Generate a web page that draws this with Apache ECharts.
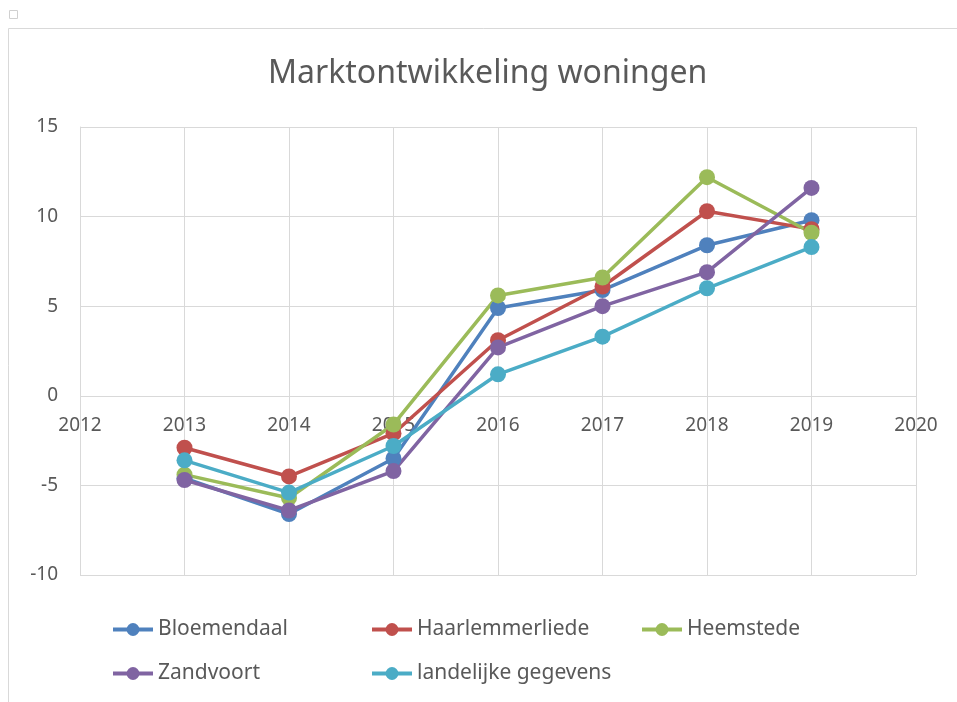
<!DOCTYPE html>
<html>
<head>
<meta charset="utf-8">
<script src="https://cdn.jsdelivr.net/npm/echarts@6/dist/echarts.min.js"></script>
<style>
  html, body { margin: 0; padding: 0; background: #fff; }
  #chart { width: 957px; height: 702px; }
</style>
</head>
<body>
<div id="chart"></div>
<script>
// jaren en reeksen
const years = [2013, 2014, 2015, 2016, 2017, 2018, 2019];
const bloemendaal = [-4.6, -6.6, -3.5, 4.9, 5.9, 8.4, 9.8];
const haarlemmerliede = [-2.9, -4.5, -2.1, 3.1, 6.1, 10.3, 9.3];
const heemstede = [-4.4, -5.7, -1.6, 5.6, 6.6, 12.2, 9.1];
const zandvoort = [-4.7, -6.4, -4.2, 2.7, 5.0, 6.9, 11.6];
const landelijk = [-3.6, -5.4, -2.8, 1.2, 3.3, 6.0, 8.3];

const names = ['Bloemendaal', 'Haarlemmerliede', 'Heemstede', 'Zandvoort', 'landelijke gegevens'];
const colors = ['#4f81bd', '#c0504d', '#9bbb59', '#8064a2', '#4bacc6'];
const values = [bloemendaal, haarlemmerliede, heemstede, zandvoort, landelijk];

const font = 'Noto Sans';
const textColor = '#595959';

// legenda posities (twee rijen)
const legendPos = [[111, 619], [370, 619], [640, 619], [111, 663], [370, 663]];

const chart = echarts.init(document.getElementById('chart'));

chart.setOption({
  animation: false,
  textStyle: { fontFamily: font },
  title: {
    text: 'Marktontwikkeling woningen',
    left: 268,
    top: 58,
    padding: 0,
    textStyle: { fontFamily: font, fontSize: 32, fontWeight: 'normal', color: textColor }
  },
  grid: { left: 80, right: 41, top: 127, bottom: 127 },
  xAxis: {
    type: 'value',
    min: 2012,
    max: 2020,
    interval: 1,
    position: 'bottom',
    offset: -179, // as op nul zetten
    axisLine: { show: false },
    axisTick: { show: false },
    axisLabel: { color: textColor, fontSize: 19, margin: 20, formatter: v => String(v) },
    splitLine: { show: true, lineStyle: { color: '#d9d9d9', width: 1 } }
  },
  yAxis: {
    type: 'value',
    min: -10,
    max: 15,
    interval: 5,
    axisLine: { show: true, lineStyle: { color: '#d9d9d9', width: 1 } },
    axisTick: { show: false },
    axisLabel: { color: textColor, fontSize: 19, margin: 22 },
    splitLine: { show: true, lineStyle: { color: '#d9d9d9', width: 1 } }
  },
  legend: names.map((n, i) => ({
    data: [n],
    left: legendPos[i][0],
    top: legendPos[i][1],
    padding: 0,
    itemWidth: 40,
    itemHeight: 16,
    lineStyle: { width: 4 },
    textStyle: { fontFamily: font, fontSize: 21, color: textColor }
  })),
  graphic: [
    { type: 'rect', shape: { x: 8.5, y: 28.5, width: 960, height: 690 }, style: { fill: 'none', stroke: '#d9d9d9', lineWidth: 1 } },
    { type: 'rect', shape: { x: 9.5, y: 10.5, width: 8, height: 8 }, style: { fill: 'none', stroke: '#d0d0d0', lineWidth: 1 } }
  ],
  series: names.map((n, i) => ({
    name: n,
    type: 'line',
    data: years.map((y, k) => [y, values[i][k]]),
    color: colors[i],
    symbol: 'circle',
    symbolSize: 16,
    lineStyle: { width: 3.5 }
  }))
});
</script>
</body>
</html>
